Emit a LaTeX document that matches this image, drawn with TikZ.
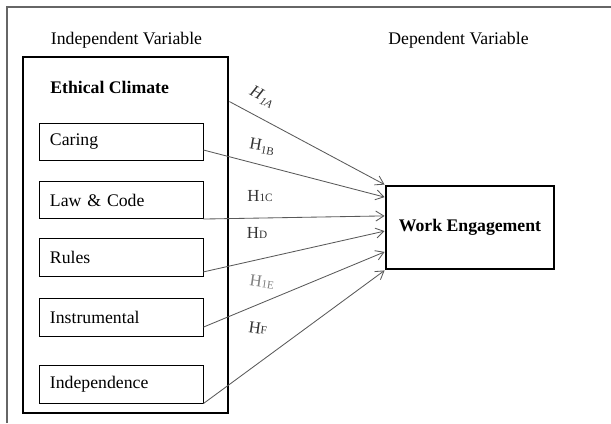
\documentclass[tikz,border=0pt]{standalone}
\usepackage{fontspec}
\setmainfont{Liberation Serif}
\usetikzlibrary{arrows.meta}

\begin{document}
\begin{tikzpicture}[x=0.025cm, y=-0.025cm,
    font=\fontsize{12.6}{15}\selectfont,
    var/.style={draw, line width=0.6pt, minimum height=0.93cm,
      text width=3.55cm, inner xsep=0.275cm, align=left},
    hyp/.style={font=\fontsize{12}{14}\selectfont, text=black!80}]
  \useasboundingbox (0,0) rectangle (611,423);
  \draw [black!60, line width=0.8pt] (7,423) -- (7,7) -- (611,7);

  \node (indhead) at (126.5,40) {Independent Variable};
  \node (dephead) at (458.5,40) {Dependent Variable};

  \node [draw, line width=2pt, minimum width=5.125cm, minimum height=8.9cm]
  (climate) at (125.5,235) {};
  \node [anchor=west, inner sep=0pt] (title) at (50,87) {\bfseries Ethical Climate};

  \begin{scope}[every node/.style={var}]
    \node (caring) at (121,142) {Caring}; \node (law) at (121,200)
    {Law \& Code}; \node (rules) at (121,257.5) {Rules};
    \node (instr) at (121,317.5) {Instrumental}; \node (indep) at
    (121,384.5) {Independence};
  \end{scope}

  \node [draw, line width=2pt, minimum width=4.2cm, minimum height=2.075cm]
  (engage) at (470,227.5) {\bfseries Work Engagement};

  \begin{scope}[->, >={Straight Barb[length=0.2cm, width=0.25cm]},
    draw=black!65, line width=0.6pt]
    \draw ([yshift=-1.15cm]climate.north east) -- (engage.north west);
    \draw ([yshift=-0.2cm]caring.east) -- ([yshift=0.76cm]engage.west);
    \draw (law.south east) -- ([yshift=0.29cm]engage.west);
    \draw ([yshift=-0.36cm]rules.east) -- ([yshift=-0.09cm]engage.west);
    \draw ([yshift=-0.24cm]instr.east) -- ([yshift=-0.61cm]engage.west);
    \draw (indep.south east) -- (engage.south west);
  \end{scope}

  \node [hyp, rotate=-28] (h1a) at (262,97) {\textit{H}\raisebox{-0.4ex}{\footnotesize\itshape 1A}};
  \node [hyp, rotate=-10] (h1b) at (262,147) {H\raisebox{-0.4ex}{\footnotesize 1B}};
  \node [hyp] (h1c) at (260,196) {H{\footnotesize 1C}};
  \node [hyp] (hd) at (257,233) {H{\footnotesize D}};
  \node [hyp, rotate=-8, text=black!50] (h1e) at (262,282) {H{\footnotesize 1E}};
  \node [hyp, rotate=-8] (hf) at (258,328) {H{\footnotesize F}};
\end{tikzpicture}
\end{document}
